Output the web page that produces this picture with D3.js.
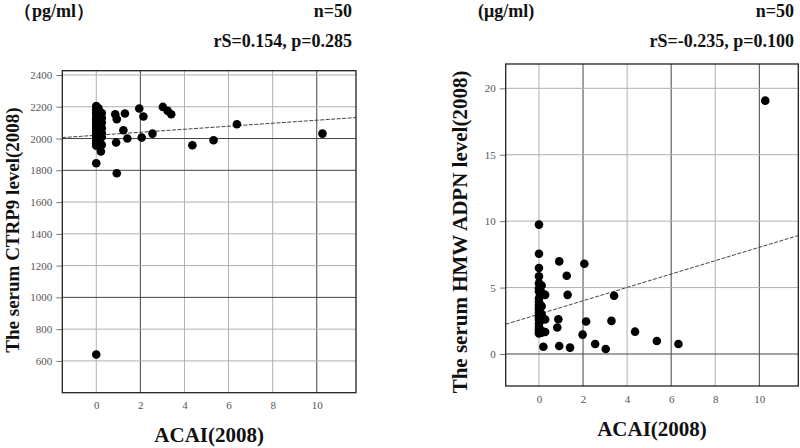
<!DOCTYPE html>
<html><head><meta charset="utf-8">
<script src="https://cdn.jsdelivr.net/npm/d3@7"></script>
<style>body{margin:0;background:#fff}svg{display:block}</style>
</head><body>
<svg id="c" width="800" height="448"></svg>
<script>
// ---------- data ----------
const xTicks = [0, 2, 4, 6, 8, 10];
const leftYTicks = [600, 800, 1000, 1200, 1400, 1600, 1800, 2000, 2200, 2400];
const rightYTicks = [0, 5, 10, 15, 20];

// Left: ACAI vs CTRP9 (pg/ml)
const acaiA = [0,0,0,0,0,0,0,0,0,0,0,0,0,0,0,0,0,
  0.1,0.1,0.1,0.1,0.1,
  0.25,0.25,0.25,0.25,0.25,0.25,0.25,
  0.86,0.93,1.3,1.23,1.41,0.9,0.93,1.95,2.14,2.06,2.55,3.02,3.24,3.4,4.36,5.32,6.38,10.26,0.21,0,0];
const ctrp9 = [2205,2185,2165,2150,2135,2120,2105,2090,2075,2060,2045,2030,2015,2000,1985,1970,1955,
  2190,2140,2085,2025,1990,
  2160,2130,2100,2065,2035,2010,1960,
  2153,2122,2158,2052,2000,1975,1781,2189,2139,2006,2031,2199,2174,2153,1958,1989,2090,2031,1918,1844,640];
const trendA = [[-1.54, 2006], [11.78, 2132]];

// Right: ACAI vs HMW ADPN (μg/ml)
const acaiB = [0,0,0,0,0,0,0,0,0,0,0,0,0,0,0,0,0,0,0,0,0,
  0.12,0.12,0.12,0.12,0.12,0.12,0.12,
  0.28,0.28,0.28,
  0.92,1.26,1.3,0.88,0.83,0.92,1.41,2.06,2.14,1.98,2.55,3.03,3.29,3.41,4.36,5.35,6.33,10.27,0.2];
const adpn = [9.74,7.55,6.47,5.84,5.33,4.95,4.7,4.2,3.95,3.7,3.5,3.32,3.1,2.94,2.75,2.57,2.3,2.05,1.85,1.68,1.55,
  5.15,4.63,3.6,3.0,2.57,1.6,1.75,
  4.45,2.6,1.65,
  6.97,5.89,4.45,2.62,1.99,0.6,0.48,6.79,2.44,1.46,0.75,0.38,2.49,4.38,1.68,0.98,0.75,19.07,0.55];
const trendB = [[-1.51, 2.24], [11.77, 8.92]];

// ---------- drawing ----------
const svg = d3.select("#c");
const serif = "'Liberation Serif','Times New Roman',serif";

function panel(cfg) {
  const x = d3.scaleLinear().domain(cfg.xDom).range([cfg.x0, cfg.x1]);
  const y = d3.scaleLinear().domain(cfg.yDom).range([cfg.y1, cfg.y0]);
  const g = svg.append("g");
  // gridlines
  g.selectAll(".vg").data(xTicks).enter().append("line")
    .attr("x1", d => x(d)).attr("x2", d => x(d))
    .attr("y1", cfg.y0).attr("y2", cfg.y1)
    .attr("stroke", d => cfg.darkX.includes(d) ? "#444" : "#b0b0b0").attr("stroke-width", 1);
  g.selectAll(".hg").data(cfg.yTicks).enter().append("line")
    .attr("x1", cfg.x0).attr("x2", cfg.x1)
    .attr("y1", d => y(d)).attr("y2", d => y(d))
    .attr("stroke", d => cfg.darkY.includes(d) ? "#444" : "#b0b0b0").attr("stroke-width", 1);
  // axes (ticks + labels)
  const ya = d3.axisLeft(y).tickValues(cfg.yTicks).tickFormat(d3.format("d")).tickSize(6).tickPadding(4);
  const ga = g.append("g").attr("transform", `translate(${cfg.x0},0)`).call(ya);
  ga.select(".domain").remove();
  ga.selectAll("line").attr("stroke", "#777");
  ga.selectAll("text").attr("font-family", serif).attr("font-size", 11).attr("fill", "#555");
  const xa = d3.axisBottom(x).tickValues(xTicks).tickFormat(d3.format("d")).tickSize(0).tickPadding(9);
  const gx = g.append("g").attr("transform", `translate(0,${cfg.y1})`).call(xa);
  gx.select(".domain").remove();
  gx.selectAll("text").attr("font-family", serif).attr("font-size", 11).attr("fill", "#555");
  // box
  g.append("rect").attr("x", cfg.x0).attr("y", cfg.y0)
    .attr("width", cfg.x1 - cfg.x0).attr("height", cfg.y1 - cfg.y0)
    .attr("fill", "none").attr("stroke", "#222").attr("stroke-width", 1.3);
  // trend line
  g.append("line")
    .attr("x1", x(cfg.trend[0][0])).attr("y1", y(cfg.trend[0][1]))
    .attr("x2", x(cfg.trend[1][0])).attr("y2", y(cfg.trend[1][1]))
    .attr("stroke", "#444").attr("stroke-width", 1).attr("stroke-dasharray", "4,1.5");
  // points
  g.selectAll("circle").data(cfg.xs).enter().append("circle")
    .attr("cx", d => x(d)).attr("cy", (d, i) => y(cfg.ys[i]))
    .attr("r", 4.3).attr("fill", "#000");
  // texts
  const t = (txt, tx, ty, anchor, size) => svg.append("text").text(txt)
    .attr("x", tx).attr("y", ty).attr("text-anchor", anchor)
    .attr("font-family", serif).attr("font-weight", "bold").attr("font-size", size).attr("fill", "#111");
  t(cfg.unit, cfg.unitX, 17, "start", 18);
  t("n=50", cfg.rightX, 17, "end", 18);
  t(cfg.stat, cfg.rightX, 47, "end", 18);
  t("ACAI(2008)", (cfg.x0 + cfg.x1) / 2, cfg.xTitleY, "middle", 21);
  svg.append("text").text(cfg.yTitle)
    .attr("transform", `translate(${cfg.yTitleX},${cfg.yTitleY}) rotate(-90)`)
    .attr("text-anchor", "middle")
    .attr("font-family", serif).attr("font-weight", "bold").attr("font-size", cfg.yTitleSize).attr("fill", "#111");
}

panel({
  x0: 62.3, x1: 356, y0: 70.7, y1: 392.7,
  xDom: [-1.54, 11.78], yDom: [400, 2427],
  yTicks: leftYTicks, darkX: [2, 10], darkY: [2000, 1800, 1000],
  xs: acaiA, ys: ctrp9, trend: trendA,
  unit: "（pg/ml）", unitX: 14, rightX: 352, stat: "rS=0.154, p=0.285",
  xTitleY: 442, yTitle: "The serum CTRP9 level(2008)", yTitleX: 19, yTitleY: 230, yTitleSize: 19
});
panel({
  x0: 505.7, x1: 798.3, y0: 64, y1: 386,
  xDom: [-1.51, 11.77], yDom: [-2.41, 21.83],
  yTicks: rightYTicks, darkX: [2, 6, 10], darkY: [0],
  xs: acaiB, ys: adpn, trend: trendB,
  unit: "(μg/ml)", unitX: 478, rightX: 794, stat: "rS=-0.235, p=0.100",
  xTitleY: 436, yTitle: "The serum HMW ADPN level(2008)", yTitleX: 467, yTitleY: 232, yTitleSize: 21
});
</script>
</body></html>
